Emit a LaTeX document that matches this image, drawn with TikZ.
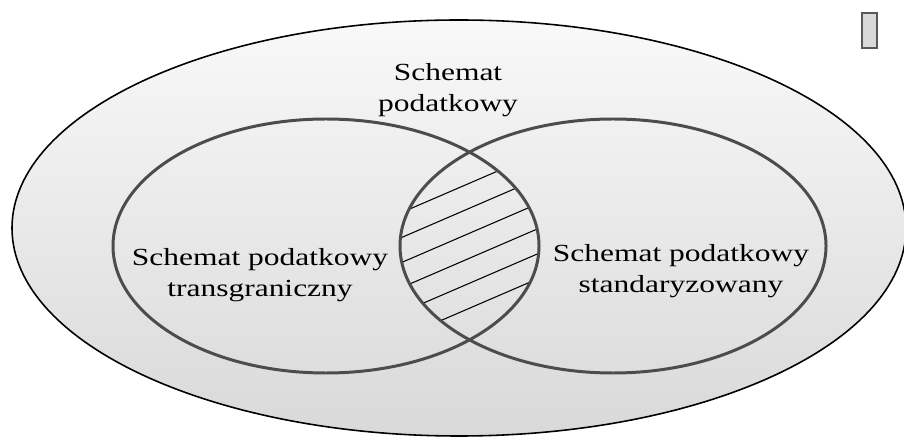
\documentclass[tikz,border=0pt]{standalone}
\usepackage{fontspec}
\setmainfont{Liberation Serif}[FakeStretch=1.28]
\usepackage{tikz}
\tikzset{
	vennline/.style={line width=1.7pt, draw=black!70},
	hatchline/.style={line width=0.6pt, draw=black},
	schemtext/.style={font=\fontsize{14}{17.5}\selectfont, align=center, inner sep=0pt}
}

\begin{document}
\begin{tikzpicture}
		%%%%% START %%%%%
		\useasboundingbox (0, 0) rectangle (18.08, 8.72);
		
		\shade[top color=gray!5, bottom color=gray!30] (9.18, 4.16) ellipse (8.94 and 4.16);
		\draw[line width=0.9pt] (9.18, 4.16) ellipse (8.94 and 4.16);
		
		\begin{scope}
			\clip (6.52, 3.8) ellipse (4.26 and 2.54);
			\clip (12.26, 3.8) ellipse (4.26 and 2.54);
			\draw[hatchline] (7.8, 4.37) -- (11.0, 5.75);
			\draw[hatchline] (7.8, 3.87) -- (11.0, 5.25);
			\draw[hatchline] (7.8, 3.37) -- (11.0, 4.75);
			\draw[hatchline] (7.8, 2.87) -- (11.0, 4.25);
			\draw[hatchline] (7.8, 2.37) -- (11.0, 3.75);
			\draw[hatchline] (7.8, 1.87) -- (11.0, 3.25);
		\end{scope}
		
		\draw[vennline] (6.52, 3.8) ellipse (4.26 and 2.54);
		\draw[vennline] (12.26, 3.8) ellipse (4.26 and 2.54);
		
		\node[schemtext] (outer) at (8.96, 6.92) {Schemat\\podatkowy};
		\node[schemtext] (cross) at (5.2, 3.22) {Schemat podatkowy\\transgraniczny};
		\node[schemtext] (standard) at (13.62, 3.3) {Schemat podatkowy\\standaryzowany};
		
		\draw[line width=0.9pt, draw=black!65, fill=gray!30] (17.24, 7.76) rectangle (17.54, 8.46);
		%%%%% END %%%%%
\end{tikzpicture}
\end{document}
